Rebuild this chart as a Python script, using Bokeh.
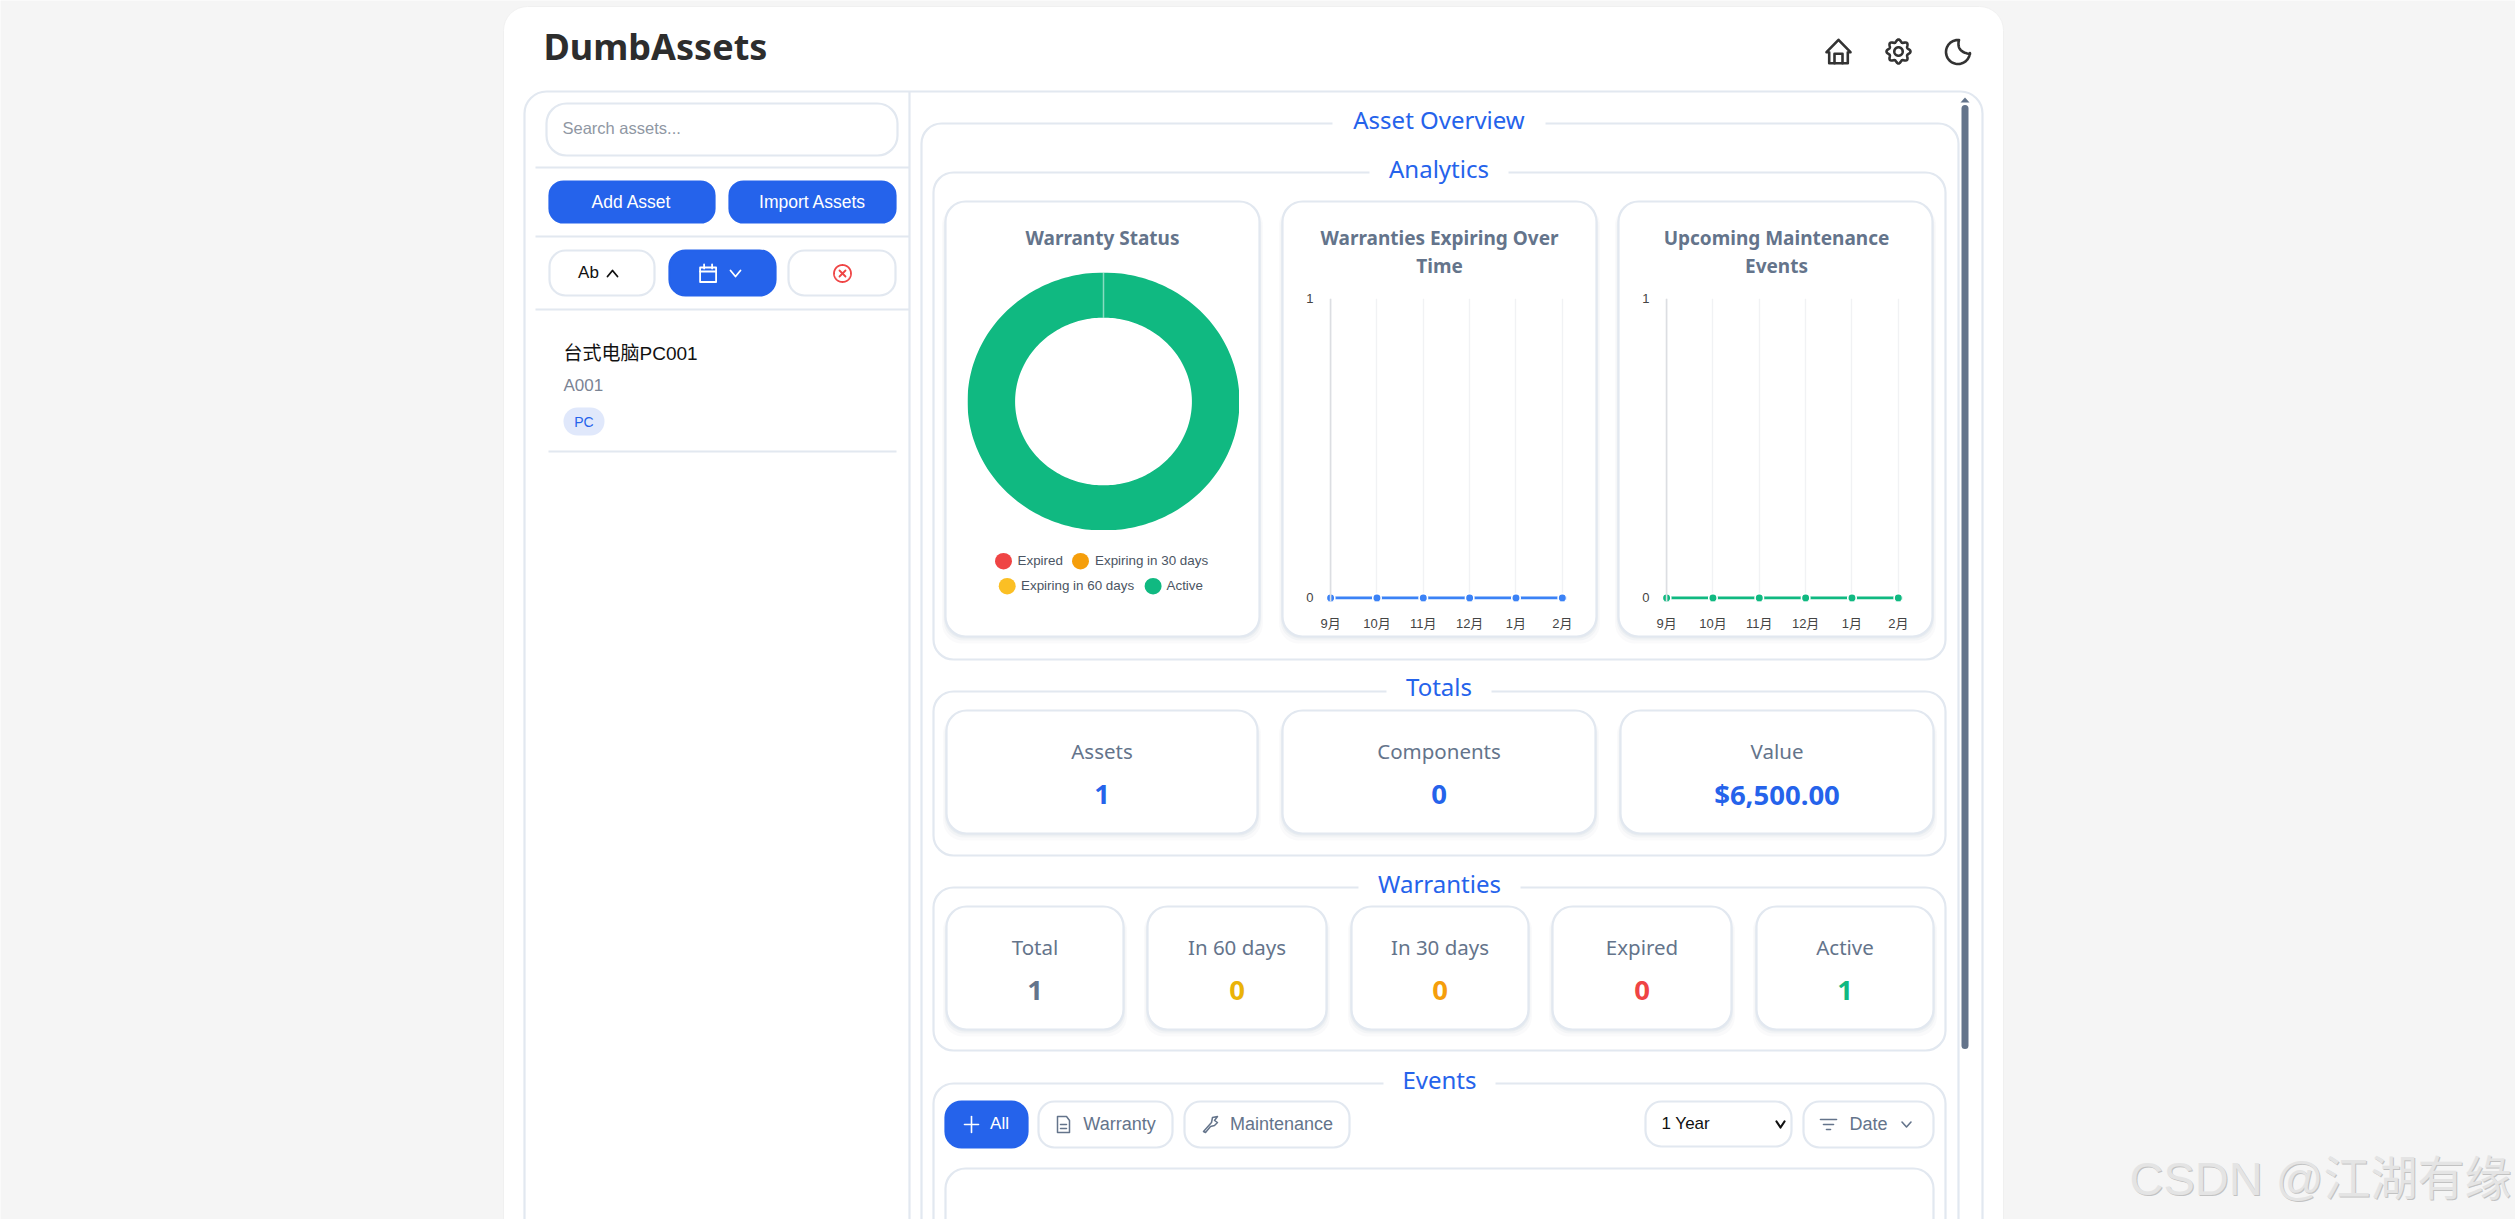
from bokeh.plotting import figure
from bokeh.core.properties import value
from bokeh.models import Range1d, FixedTicker, Span
from bokeh.embed import file_html
from bokeh.resources import INLINE
import numpy as np

# chart data
months = ["9月", "10月", "11月", "12月", "1月", "2月"]
expiring = [0, 0, 0, 0, 0, 0]
maintenance = [0, 0, 0, 0, 0, 0]
status_labels = ["Expired", "Expiring in 30 days", "Expiring in 60 days", "Active"]
status_values = [0, 0, 0, 1]
status_colors = ["#ef4444", "#f59e0b", "#fbbf24", "#10b981"]

total_labels = ["Assets", "Components", "Value"]
total_values = ["1", "0", "$6,500.00"]
warranty_labels = ["Total", "In 60 days", "In 30 days", "Expired", "Active"]
warranty_values = ["1", "0", "0", "0", "1"]
warranty_colors = ["#64748b", "#eab308", "#f59e0b", "#ef4444", "#10b981"]

W, H = 2515, 1219
BORDER = "#e2e8f0"
BLUE = "#2563eb"
SLATE = "#64748b"
PAGE = "#f5f5f5"
UI_FONT = "Noto Sans"
ARIAL = "Liberation Sans, Noto Sans CJK SC"
NO_BORDER = dict(min_border_left=0, min_border_right=0, min_border_top=0, min_border_bottom=0)


def overlay(fig, left, top):
    # small figures are placed over the page figure
    fig.styles = {"position": "absolute", "left": f"{left}px", "top": f"{top}px"}
    return fig


# the page figure works in screenshot pixels
p = figure(width=W, height=H, x_range=Range1d(0, W), y_range=Range1d(H, 0), output_backend="svg",
           toolbar_location=None, background_fill_color=PAGE, border_fill_color=PAGE, outline_line_color=None,
           **NO_BORDER)
p.axis.visible = False
p.grid.visible = False


def box(x0, y0, x1, y1, r=0, fill="white", line=BORDER, lw=2.2):
    p.quad(left=[x0], right=[x1], top=[y0], bottom=[y1], border_radius=r,
           fill_color=fill, line_color=line, line_width=lw)


def card(x0, y0, x1, y1, r=20):
    # soft drop shadow under the cards
    for grow, alpha in [(7, 0.05), (4, 0.07), (2, 0.09)]:
        p.quad(left=[x0 - grow / 2], right=[x1 + grow / 2], top=[y0 + 4], bottom=[y1 + grow], border_radius=r,
               fill_color="#94a3b8", fill_alpha=alpha, line_color=None)
    box(x0, y0, x1, y1, r)


def label(x, y, text, size, color="#334155", font=UI_FONT, align="center", style="normal"):
    p.text(x=[x], y=[y], text=[text], text_font=value(font), text_font_size=f"{size}px", text_color=color,
           text_align=align, text_baseline="middle", text_font_style=style)


def stroke(cx, cy, pts, color="#333333", lw=2.0):
    xs = [cx + a for a, b in pts]
    ys = [cy + b for a, b in pts]
    p.line(xs, ys, line_color=color, line_width=lw, line_join="round", line_cap="round")


def chevron(cx, cy, up=False, color="#475569", lw=1.8, w=5, h=3):
    s = -1 if up else 1
    stroke(cx, cy, [(-w, -s * h), (0, s * h), (w, -s * h)], color, lw)


def section(x0, y0, x1, y1, title, gap0, gap1, text_y, r=20, size=24):
    box(x0, y0, x1, y1, r)
    p.quad(left=[gap0], right=[gap1], top=[y0 - 4], bottom=[y0 + 4], fill_color="white", line_color=None)
    label((gap0 + gap1) / 2, text_y, title, size, BLUE)


# page shell
box(503, 6, 2003, H + 60, 24, line="#f0f0f0", lw=1)
label(543, 46, "DumbAssets", 36, "#2d2d2d", style="bold", align="left")
box(524, 91, 1982, H + 60, 22)
p.line([909, 909], [91, H], line_color=BORDER, line_width=2.2)

# header icons
stroke(1838, 51, [(-12, 0.7), (0, -11.7), (12, 0.7), (9.3, 0.7), (9.3, 11.7), (-9.3, 11.7), (-9.3, 0.7), (-12, 0.7)], lw=2.6)
stroke(1838, 51, [(-4, 11.7), (-4, 2.3), (4, 2.3), (4, 11.7)], lw=2.6)
theta = np.linspace(0, 2 * np.pi, 121)
gear_r = 10.7 + 1.3 * np.cos(8 * theta)
stroke(1898, 51, list(zip(gear_r * np.sin(theta), gear_r * np.cos(theta))), lw=2.6)
stroke(1898, 51, list(zip(4.2 * np.sin(theta), 4.2 * np.cos(theta))), lw=2.6)
arc = np.radians(np.linspace(-85, -355, 40))
moon = list(zip(-0.5 + 12 * np.cos(arc), 0.5 + 12 * np.sin(arc)))
t = np.linspace(0, 1, 20)
moon += list(zip((1 - t) ** 2 * 11.5 + 2 * t * (1 - t) * (-2.5) + t ** 2 * 0.5,
                 (1 - t) ** 2 * 2.5 + 2 * t * (1 - t) * 0.5 + t ** 2 * (-11.5)))
stroke(1958, 51, moon, lw=2.6)

# sidebar
box(546, 103, 897, 155, 20)
label(562, 127, "Search assets...", 16.5, "#8f97a3", ARIAL, "left")
p.line([535, 909], [167, 167], line_color=BORDER, line_width=2.2)
box(549, 181, 714, 222, 14, BLUE, BLUE)
label(631, 201, "Add Asset", 17.5, "white", ARIAL)
box(729, 181, 895, 222, 14, BLUE, BLUE)
label(812, 201, "Import Assets", 17.5, "white", ARIAL)
p.line([535, 909], [236, 236], line_color=BORDER, line_width=2.2)
box(549, 250, 654, 295, 16)
label(588, 272, "Ab", 17, "#111111", ARIAL)
chevron(612, 273, up=True, color="#111111")
box(669, 250, 775, 295, 16, BLUE, BLUE)
stroke(707.6, 273, [(-8, -6), (8, -6), (8, 8.5), (-8, 8.5), (-8, -6)], "white", 1.8)
stroke(707.6, 273, [(-8, -2), (8, -2)], "white", 1.8)
stroke(707.6, 273, [(-4, -9), (-4, -5)], "white", 1.8)
stroke(707.6, 273, [(4, -9), (4, -5)], "white", 1.8)
chevron(735, 273, color="white")
box(788, 250, 895, 295, 16)
stroke(842, 273, list(zip(8.5 * np.sin(theta), 8.5 * np.cos(theta))), "#ef4444", 1.8)
stroke(842, 273, [(-3, -3), (3, 3)], "#ef4444", 1.8)
stroke(842, 273, [(-3, 3), (3, -3)], "#ef4444", 1.8)
p.line([535, 909], [309, 309], line_color=BORDER, line_width=2.2)
label(563, 353, "台式电脑PC001", 19, "#111111", ARIAL, "left")
label(563, 385, "A001", 17, "#7b8494", ARIAL, "left")
box(563, 407, 604, 435, 14, "#e0e8fb", None)
label(583.5, 421, "PC", 14, BLUE, ARIAL)
p.line([548, 896], [451, 451], line_color=BORDER, line_width=2.2)

# main panel
box(921, 123, 1958, H + 60, 20)
p.quad(left=[1332], right=[1545], top=[119], bottom=[127], fill_color="white", line_color=None)
label(1438.5, 118.5, "Asset Overview", 24, BLUE)
section(933, 172, 1945, 659, "Analytics", 1369, 1508, 167.5)

# analytics cards
card(945, 201, 1259, 636)
card(1282, 201, 1596, 636)
card(1618, 201, 1932, 636)
label(1102, 237.5, "Warranty Status", 19, SLATE, style="bold")
label(1439, 237.5, "Warranties Expiring Over", 19, SLATE, style="bold")
label(1439, 265.5, "Time", 19, SLATE, style="bold")
label(1776, 237.5, "Upcoming Maintenance", 19, SLATE, style="bold")
label(1776, 265.5, "Events", 19, SLATE, style="bold")

# donut legend
marker_x = [1003, 1080, 1006.7, 1152.6]
marker_y = [560.7, 560.7, 585.7, 585.7]
legend_text_x = [1017, 1094.5, 1020.5, 1166]
p.ellipse(marker_x, marker_y, width=17, height=16.5, fill_color=status_colors, line_color=None)
for tx, ty, name in zip(legend_text_x, marker_y, status_labels):
    label(tx, ty - 0.5, name, 13.4, "#4b5563", ARIAL, "left")

# totals
section(933, 691, 1945, 855, "Totals", 1386, 1491, 685.5)
total_x = [(946, 1257), (1282, 1595), (1620, 1933)]
for (x0, x1), name, val in zip(total_x, total_labels, total_values):
    card(x0, 710, x1, 833)
    label((x0 + x1) / 2, 750, name, 20.5, SLATE)
    label((x0 + x1) / 2, 794, val, 27.5, BLUE, style="bold")

# warranties
section(933, 887, 1945, 1050, "Warranties", 1358, 1520, 882.5)
warranty_x = [(946, 1123), (1147, 1326), (1351, 1528), (1552, 1731), (1756, 1933)]
for (x0, x1), name, val, col in zip(warranty_x, warranty_labels, warranty_values, warranty_colors):
    card(x0, 906, x1, 1029)
    label((x0 + x1) / 2, 946, name, 20.5, SLATE)
    label((x0 + x1) / 2, 990, val, 27.5, col, style="bold")

# events
section(933, 1083, 1945, H + 60, "Events", 1383, 1495, 1078.5)
box(945, 1101, 1027, 1147, 16, BLUE, BLUE)
stroke(971, 1124, [(-7, 0), (7, 0)], "white", 1.6)
stroke(971, 1124, [(0, -8), (0, 8)], "white", 1.6)
label(999, 1123, "All", 17, "white", ARIAL)
box(1038, 1101, 1172, 1147, 16)
stroke(1063, 1124, [(-6, -8), (3, -8), (6, -4), (6, 8), (-6, 8), (-6, -8)], SLATE, 1.5)
stroke(1063, 1124, [(-3, 0), (3, 0)], SLATE, 1.5)
stroke(1063, 1124, [(-3, 4), (3, 4)], SLATE, 1.5)
label(1119, 1123, "Warranty", 18, SLATE, ARIAL)
box(1184, 1101, 1349, 1147, 16)
stroke(1210, 1124, [(-7, 7), (1, -2), (2, -7), (7, -8), (4, -4), (7, -2), (4, 1), (0, 2), (-5, 8), (-7, 7)], SLATE, 1.5)
label(1281, 1123, "Maintenance", 18, SLATE, ARIAL)
box(1645, 1101, 1791, 1146, 16)
label(1661, 1123, "1 Year", 17, "#111111", ARIAL, "left")
chevron(1780, 1124, color="#111111", lw=2.2, w=4, h=3)
box(1803, 1101, 1933, 1147, 16)
stroke(1828, 1124, [(-8, -5), (8, -5)], SLATE, 1.6)
stroke(1828, 1124, [(-5, 0), (5, 0)], SLATE, 1.6)
stroke(1828, 1124, [(-2, 5), (2, 5)], SLATE, 1.6)
label(1868, 1123, "Date", 18, SLATE, ARIAL)
chevron(1906, 1124, color=SLATE, lw=1.6, w=4.5, h=2.5)
box(945, 1168, 1933, H + 60, 20)

# scrollbar
p.line([1964.5, 1964.5], [108, 1045], line_color=SLATE, line_width=7, line_cap="round")
p.patch([1960, 1969, 1964.5], [102, 102, 97], fill_color=SLATE, line_color=None)

# watermark
label(2130, 1179, "CSDN @江湖有缘", 47, "#c2c2c2", ARIAL, "left")
label(2129, 1178, "CSDN @江湖有缘", 47, "#e4e4e4", ARIAL, "left")

# donut chart, drawn through its own -1..1 scales
donut = figure(width=272, height=258, x_range=Range1d(-1, 1), y_range=Range1d(-1, 1), output_backend="svg",
               toolbar_location=None, outline_line_color=None, background_fill_color=None,
               border_fill_color=None, **NO_BORDER)
donut.axis.visible = False
donut.grid.visible = False
CUTOUT = 0.65
start = 0.0
total = sum(status_values)
for val, col in zip(status_values, status_colors):
    if val == 0:
        continue
    a = np.linspace(start, start + val / total, 241) * 2 * np.pi
    donut.patch(list(np.sin(a)) + list(CUTOUT * np.sin(a[::-1])),
                list(np.cos(a)) + list(CUTOUT * np.cos(a[::-1])), fill_color=col, line_color=None)
    donut.line([0, 0], [CUTOUT, 1], line_color="white", line_alpha=0.5, line_width=1.5)
    start += val / total
overlay(donut, 967, 272)


def line_chart(values, color, left):
    # frame starts 5px left of the first month so the first point and the ticks stay visible
    c = figure(width=290, height=352, x_range=Range1d(-0.11, 5.09), y_range=Range1d(-0.012, 1),
               output_backend="svg", toolbar_location=None, min_border_left=27, min_border_right=22,
               min_border_top=11, min_border_bottom=38, outline_line_color=None,
               background_fill_color=None, border_fill_color=None)
    xs = list(range(len(months)))
    c.line(xs, values, line_color=color, line_width=2.6)
    c.scatter(xs, values, size=8.5, fill_color=color, line_color="white", line_width=1.6)
    c.add_layout(Span(location=0, dimension="height", line_color="#dcdee2", line_width=1.6))
    c.xaxis.ticker = FixedTicker(ticks=xs)
    c.xaxis.major_label_overrides = dict(zip(xs, months))
    c.yaxis.ticker = FixedTicker(ticks=[0, 1])
    for ax in [c.xaxis, c.yaxis]:
        ax.axis_line_color = None
        ax.major_tick_line_color = None
        ax.minor_tick_line_color = None
        ax.major_label_text_font = ARIAL
        ax.major_label_text_font_size = "13px"
        ax.major_label_text_color = "#444444"
    c.xaxis.major_label_standoff = 8
    c.yaxis.major_label_standoff = 6
    c.grid.grid_line_color = "#f1f2f4"
    c.grid.grid_line_width = 1.4
    return overlay(c, left, 287)


chart_a = line_chart(expiring, "#3b82f6", 1298)
chart_b = line_chart(maintenance, "#10b981", 1634)

# separate roots: a column would line up the frames of its children
open("out.html", "w").write(file_html([p, donut, chart_a, chart_b], INLINE))
